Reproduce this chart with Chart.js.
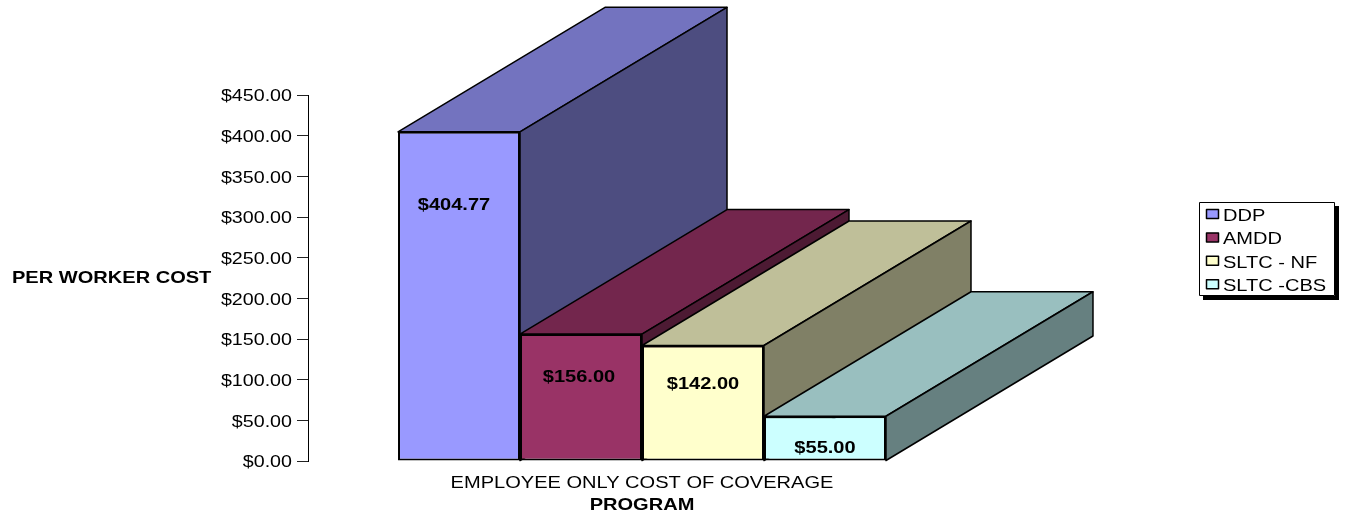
<!DOCTYPE html>
<html>
<head>
<meta charset="utf-8">
<title>Per worker cost</title>
<style>
  html, body { margin: 0; padding: 0; background: #fff; }
  canvas { display: block; }
</style>
<script src="https://cdn.jsdelivr.net/npm/chart.js@4"></script>
</head>
<body>
<canvas id="costChart" width="1348" height="519"></canvas>
<script>
// values
const categories = ['EMPLOYEE ONLY COST OF COVERAGE'];
const programs = ['DDP', 'AMDD', 'SLTC - NF', 'SLTC -CBS'];
const costs = [404.77, 156.00, 142.00, 55.00];
const colors = ['#9999FF', '#993366', '#FFFFCC', '#CCFFFF'];
const topColors = ['#7373BF', '#73264D', '#BFBF99', '#99BFBF'];
const sideColors = ['#4D4D80', '#4D1A33', '#808066', '#668080'];
// the source puts its value labels at odd heights, so keep them in axis units
const labelHeights = [317, 105, 96, 18];
const labelShifts = [-5, -2, 0, 0];

const DEPTH_X = 207;
const DEPTH_Y = -124.5;
const TEXT_FONT = 'Liberation Sans, Arial, sans-serif';
const TEXT_STRETCH = 1.215; // the picture's text is wider than the font

const canvas = document.getElementById('costChart');
const ctx = canvas.getContext('2d');

// stretch every string sideways around its anchor
const plainFillText = ctx.fillText.bind(ctx);
ctx.fillText = (text, x, y) => {
    ctx.save();
    ctx.translate(x, y + 2);
    ctx.scale(TEXT_STRETCH, 1);
    plainFillText(text, 0, 0);
    ctx.restore();
};

function face(points, fill) {
    ctx.beginPath();
    points.forEach((p, i) => i ? ctx.lineTo(p[0], p[1]) : ctx.moveTo(p[0], p[1]));
    ctx.closePath();
    ctx.fillStyle = fill;
    ctx.fill();
    ctx.lineWidth = 1.5;
    ctx.strokeStyle = '#000';
    ctx.lineJoin = 'round';
    ctx.stroke();
}

// Top and side faces go under the library's bars, left to right
const depthFaces = {
    id: 'depthFaces',
    beforeDatasetsDraw(chart) {
        chart.data.datasets.forEach((ds, i) => {
            const bar = chart.getDatasetMeta(i).data[0];
            const left = bar.x - bar.width / 2;
            const right = bar.x + bar.width / 2;
            const top = bar.y;
            const bottom = bar.base;
            face([[left, top], [right, top], [right + DEPTH_X, top + DEPTH_Y], [left + DEPTH_X, top + DEPTH_Y]], topColors[i]);
            face([[right, top], [right + DEPTH_X, top + DEPTH_Y], [right + DEPTH_X, bottom + DEPTH_Y], [right, bottom]], sideColors[i]);
        });
    }
};

// Value labels, the flat y axis title and the boxed legend
const annotations = {
    id: 'annotations',
    afterDraw(chart) {
        const yScale = chart.scales.y;
        ctx.save();
        ctx.fillStyle = '#000';
        ctx.textBaseline = 'middle';

        ctx.font = 'bold 16.5px ' + TEXT_FONT;
        ctx.textAlign = 'center';
        chart.data.datasets.forEach((ds, i) => {
            const bar = chart.getDatasetMeta(i).data[0];
            ctx.fillText('$' + ds.data[0].toFixed(2), bar.x + labelShifts[i], yScale.getPixelForValue(labelHeights[i]));
        });

        ctx.textAlign = 'left';
        ctx.fillText('PER WORKER COST', 12, 276);

        // legend box with its hard shadow
        ctx.fillStyle = '#000';
        ctx.fillRect(1203, 206, 136, 94);
        ctx.fillStyle = '#fff';
        ctx.fillRect(1199, 202, 136, 94);
        ctx.strokeStyle = '#000';
        ctx.lineWidth = 1;
        ctx.strokeRect(1199.5, 202.5, 135, 93);

        ctx.font = '16.5px ' + TEXT_FONT;
        chart.data.datasets.forEach((ds, i) => {
            const rowY = 214.5 + i * 23.4;
            ctx.fillStyle = colors[i];
            ctx.fillRect(1206.5, rowY - 5, 12, 9);
            ctx.lineWidth = 1.5;
            ctx.strokeRect(1206.5, rowY - 5, 12, 9);
            ctx.fillStyle = '#000';
            ctx.fillText(ds.label, 1223, rowY);
        });
        ctx.restore();
    }
};

new Chart(ctx, {
    type: 'bar',
    data: {
        labels: categories,
        datasets: programs.map((name, i) => ({
            label: name,
            data: [costs[i]],
            backgroundColor: colors[i],
            borderColor: '#000',
            borderWidth: 2,
            borderSkipped: false
        }))
    },
    options: {
        responsive: false,
        animation: false,
        categoryPercentage: 0.7305,
        barPercentage: 1,
        layout: { padding: { top: 95, right: 372, bottom: 0, left: 0 } },
        plugins: {
            legend: { display: false },
            tooltip: { enabled: false }
        },
        scales: {
            x: {
                afterFit: scale => { scale.height = 58; },
                border: { display: false },
                grid: { display: false },
                ticks: {
                    color: '#000',
                    padding: 3,
                    maxRotation: 0,
                    font: { family: TEXT_FONT, size: 16.5 }
                },
                title: {
                    display: true,
                    text: 'PROGRAM',
                    color: '#000',
                    padding: { top: 0, bottom: 6 },
                    font: { family: TEXT_FONT, size: 16.5, weight: 'bold' }
                }
            },
            y: {
                min: 0,
                max: 450,
                afterFit: scale => { scale.width = 308; },
                border: { color: '#000', width: 1 },
                grid: { drawOnChartArea: false, tickLength: 11, tickColor: '#222' },
                ticks: {
                    stepSize: 50,
                    color: '#000',
                    padding: 5,
                    font: { family: TEXT_FONT, size: 16.2 },
                    callback: value => '$' + value.toFixed(2)
                }
            }
        }
    },
    plugins: [depthFaces, annotations]
});
</script>
</body>
</html>
